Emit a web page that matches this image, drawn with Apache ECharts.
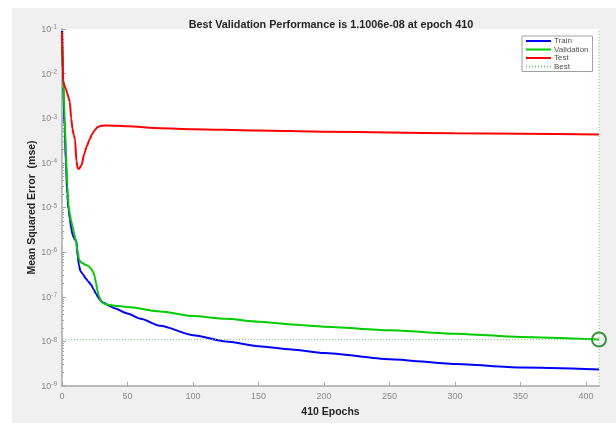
<!DOCTYPE html>
<html>
<head>
<meta charset="utf-8">
<script src="https://cdn.jsdelivr.net/npm/echarts@6/dist/echarts.min.js"></script>
<style>
  html, body { margin: 0; padding: 0; background: #fff; }
  #perfChart { position: absolute; left: 12px; top: 8px; width: 604px; height: 415px; }
</style>
</head>
<body>
<div id="perfChart"></div>
<script>
// performance curves (epoch, mse)
var trainEpochs = [0, 1, 2, 3, 4, 5, 6, 7, 8, 9, 10, 11, 12, 13, 14, 16, 18, 20, 22, 24, 26, 28, 30, 32, 36, 40, 50, 60, 75, 100, 125, 150, 175, 200, 250, 300, 350, 410]
var trainMse = [9e-2, 5e-3, 6e-4, 1e-4, 2e-5, 9e-6, 5.6e-6, 3.5e-6, 2.5e-6, 2.1e-6, 1.9e-6, 1.8e-6, 8e-7, 5e-7, 3.8e-7, 3.2e-7, 2.6e-7, 2.2e-7, 1.9e-7, 1.5e-7, 1.17e-7, 9.3e-8, 7.9e-8, 7.2e-8, 6.3e-8, 5.5e-8, 4.2e-8, 3.2e-8, 2.24e-8, 1.38e-8, 1.0e-8, 7.8e-9, 6.6e-9, 5.5e-9, 4.0e-9, 3.1e-9, 2.6e-9, 2.35e-9]

var valEpochs = [0, 1, 2, 3, 4, 5, 6, 7, 8, 9, 10, 11, 11.5, 12, 13, 14, 16, 18, 20, 22, 24, 25, 26, 27, 28, 30, 32, 35, 40, 50, 75, 100, 125, 150, 175, 200, 250, 300, 350, 410]
var valMse = [5e-2, 8e-3, 1e-3, 1.6e-4, 3.2e-5, 1.1e-5, 7e-6, 5e-6, 3.8e-6, 2.8e-6, 2.1e-6, 1.6e-6, 1.15e-6, 1.0e-6, 7e-7, 6e-7, 5.6e-7, 5.2e-7, 4.9e-7, 4.3e-7, 3.5e-7, 2.8e-7, 2.0e-7, 1.4e-7, 1.07e-7, 7.9e-8, 7.1e-8, 6.6e-8, 6.3e-8, 5.9e-8, 4.7e-8, 3.7e-8, 3.2e-8, 2.75e-8, 2.4e-8, 2.14e-8, 1.78e-8, 1.48e-8, 1.26e-8, 1.1006e-8]

var testEpochs = [0, 1, 2, 3, 4, 5, 6, 7, 8, 9, 10, 11, 12, 13, 15, 17, 19, 21, 23, 25, 27, 30, 35, 50, 75, 100, 150, 200, 250, 300, 350, 410]
var testMse = [8.5e-2, 6.6e-3, 5.2e-3, 4.5e-3, 3.6e-3, 2.9e-3, 2.3e-3, 1.0e-3, 5.8e-4, 4.2e-4, 3.3e-4, 1.1e-4, 7.5e-5, 7.3e-5, 9.1e-5, 1.6e-4, 2.4e-4, 3.3e-4, 4.4e-4, 5.4e-4, 6.3e-4, 6.8e-4, 6.9e-4, 6.6e-4, 6.0e-4, 5.7e-4, 5.3e-4, 5.0e-4, 4.8e-4, 4.6e-4, 4.5e-4, 4.35e-4]

var bestEpoch = 410
var bestMse = 1.1006e-8
var epochMax = 410
var mseMin = 1e-9
var mseMax = 1e-1

var titleText = 'Best Validation Performance is 1.1006e-08 at epoch 410'
var xName = '410 Epochs'
var yName = 'Mean Squared Error  (mse)'

function pairs(xs, ys) {
  var out = []
  for (var i = 0; i < xs.length; i++) {
    out.push([xs[i], ys[i]])
  }
  return out
}

var font = "'Liberation Sans', Arial, Helvetica, sans-serif"
var axisGray = '#a8a8a8'
var labelGray = '#8a8a8a'

var myChart = echarts.init(document.getElementById('perfChart'))
myChart.setOption({
  backgroundColor: '#f0f0f0',
  animation: false,
  textStyle: { fontFamily: font },
  title: {
    text: titleText,
    left: 314,
    textAlign: 'center',
    top: 7,
    textStyle: { fontSize: 10.8, fontWeight: 'bold', color: '#262626', fontFamily: font }
  },
  legend: {
    orient: 'vertical',
    left: 510,
    top: 28,
    padding: [1, 4, 1, 3],
    itemWidth: 25,
    itemHeight: 10,
    itemGap: 0.5,
    backgroundColor: '#ffffff',
    borderColor: '#a0a0a0',
    borderWidth: 1,
    borderRadius: 0,
    // hide the marker dot that line series add to their legend icon
    itemStyle: { opacity: 0, color: 'rgba(0,0,0,0)', borderWidth: 0 },
    textStyle: { fontSize: 8, color: '#505050', fontFamily: font, padding: [0, 0, 0, -2] },
    data: ['Train', 'Validation', 'Test', 'Best']
  },
  grid: {
    left: 50,
    top: 21,
    right: 17,
    bottom: 32,
    show: true,
    backgroundColor: '#ffffff',
    borderWidth: 0
  },
  xAxis: {
    type: 'value',
    min: 0,
    max: epochMax,
    interval: 50,
    name: xName,
    nameLocation: 'middle',
    nameGap: 21,
    nameTextStyle: { fontSize: 10.5, fontWeight: 'bold', color: '#262626', fontFamily: font },
    axisLine: { show: true, lineStyle: { color: axisGray, width: 1.5 } },
    axisTick: { show: true, inside: true, length: 4, lineStyle: { color: axisGray } },
    axisLabel: { showMaxLabel: false, fontSize: 9, color: labelGray, margin: 6, fontFamily: font },
    splitLine: { show: false }
  },
  yAxis: {
    type: 'log',
    logBase: 10,
    min: mseMin,
    max: mseMax,
    name: yName,
    nameLocation: 'middle',
    nameGap: 24,
    nameMoveOverlap: false,
    nameTextStyle: { fontSize: 10.5, fontWeight: 'bold', color: '#262626', fontFamily: font },
    axisLine: { show: true, lineStyle: { color: axisGray, width: 1.5 } },
    axisTick: { show: true, inside: true, length: 4, lineStyle: { color: axisGray } },
    minorTick: { show: true, splitNumber: 9, length: 2, lineStyle: { color: axisGray } },
    axisLabel: {
      margin: 5,
      formatter: function (v) {
        var p = Math.round(Math.log10(v))
        return '{b|10}{s|' + p + '}'
      },
      rich: {
        b: { fontSize: 9, color: labelGray, lineHeight: 10, verticalAlign: 'bottom', fontFamily: font },
        s: { fontSize: 6.5, color: labelGray, lineHeight: 10, verticalAlign: 'top', fontFamily: font }
      }
    },
    splitLine: { show: false }
  },
  series: [
    {
      name: 'Train',
      type: 'line',
      data: pairs(trainEpochs, trainMse),
      showSymbol: false,
      symbol: 'none',
      smooth: 0.25,
      smoothMonotone: 'x',
      lineStyle: { color: '#0000ff', width: 2 },
      itemStyle: { color: '#0000ff' }
    },
    {
      name: 'Validation',
      type: 'line',
      data: pairs(valEpochs, valMse),
      showSymbol: false,
      symbol: 'none',
      smooth: 0.25,
      smoothMonotone: 'x',
      lineStyle: { color: '#00cc00', width: 2 },
      itemStyle: { color: '#00cc00' }
    },
    {
      name: 'Test',
      type: 'line',
      data: pairs(testEpochs, testMse),
      showSymbol: false,
      symbol: 'none',
      smooth: 0.25,
      smoothMonotone: 'x',
      lineStyle: { color: '#ff0000', width: 2 },
      itemStyle: { color: '#ff0000' }
    },
    {
      name: 'Best',
      type: 'line',
      data: [[0, bestMse], [epochMax, bestMse]],
      showSymbol: false,
      symbol: 'none',
      lineStyle: { color: '#6fcf6f', width: 1, type: [1, 2] },
      itemStyle: { color: '#6fcf6f' }
    },
    {
      name: 'Best',
      type: 'line',
      data: [[bestEpoch, mseMin], [bestEpoch, mseMax]],
      showSymbol: false,
      symbol: 'none',
      lineStyle: { color: '#6fcf6f', width: 1, type: [1, 2] },
      itemStyle: { color: '#6fcf6f' }
    },
    {
      type: 'scatter',
      data: [[bestEpoch, bestMse]],
      symbol: 'circle',
      symbolSize: 14,
      itemStyle: { color: 'rgba(0,0,0,0)', borderColor: '#0a7d0a', borderWidth: 2 },
      z: 5
    }
  ]
})
</script>
</body>
</html>
